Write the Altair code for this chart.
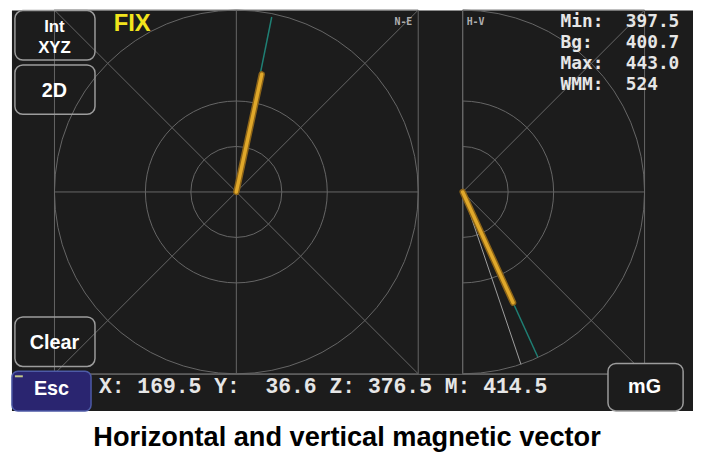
import math
import altair as alt
import pandas as pd

# ---------------- values ----------------
AXIS_NAMES = ["X:", "Y:", "Z:", "M:"]
AXIS_VALUES = [169.5, 36.6, 376.5, 414.5]          # mG
STAT_LABELS = ["Min:", "Bg:", "Max:", "WMM:"]
STAT_VALUES = ["397.5", "400.7", "443.0", "524"]
RING_RADII = [65.5, 131.0, 262.0]                   # mG (outer = WMM / 2)
# N-E panel vectors: [teal trace, orange vector]
NE_EAST = [51.0, 36.6]
NE_NORTH = [252.0, 169.5]
NE_KIND = ["trace", "vector"]
# H-V panel vectors: [gray reference, teal trace, orange vector]
HV_H = [84.0, 108.2, 72.6]
HV_V = [-248.5, -237.8, -159.5]
HV_KIND = ["ref", "trace", "vector"]
PANEL_NAMES = ["N-E", "H-V"]
BUTTONS = ["Int\nXYZ", "2D", "Clear", "Esc", "mG"]
MODE_LABEL = "FIX"
TITLE = "Horizontal and vertical magnetic vector"

# ---------------- layout / style ----------------
W, H = 693, 446
OUTER_PX = 184
R = RING_RADII[-1]
K = OUTER_PX / R
NE_CX, CY, HV_CX = 231, 183.5, 460
HV_OFF = (HV_CX - NE_CX) / K

BG = "#1c1c1c"
GRID = "#666666"
ORANGE = "#e0a82a"
ORANGE_EDGE = "#8c6418"
TEAL = "#1f7f74"
REF = "#a0a0a0"
TXT = "#e6e6e6"
BTN = "#9c9c9c"

xs = alt.Scale(domain=[-NE_CX / K, (W - NE_CX) / K], nice=False, zero=False)
ys = alt.Scale(domain=[-(H - CY) / K, CY / K], nice=False, zero=False)
one = pd.DataFrame({"a": [0]})


def X(f):
    return alt.X(f, type="quantitative", scale=xs, axis=None)


def Y(f):
    return alt.Y(f, type="quantitative", scale=ys, axis=None)


def prect(x0, y0, x1, y1, **style):
    return alt.Chart(one).mark_rect(**style).encode(
        x=alt.value(x0), x2=alt.value(x1), y=alt.value(y0), y2=alt.value(y1))


def ptext(text, x, y, **style):
    return alt.Chart(one).mark_text(text=text, **style).encode(
        x=alt.value(x), y=alt.value(y))


layers = []
# screen background
layers.append(prect(4, 0, W, 405, fill=BG))

# panel boxes
boxes = pd.DataFrame({"x0": [-R, HV_OFF], "x1": [R, HV_OFF + R],
                      "y0": [-R, -R], "y1": [R, R]})
layers.append(alt.Chart(boxes).mark_rect(fillOpacity=0, stroke=GRID, strokeWidth=1).encode(
    x=X("x0"), x2="x1", y=Y("y0"), y2="y1"))

# grid spokes
segs = pd.DataFrame({
    "x0": [0, -R, -R, -R, HV_OFF, HV_OFF, HV_OFF],
    "y0": [-R, 0, -R, R, 0, 0, 0],
    "x1": [0, R, R, R, HV_OFF + R, HV_OFF + R, HV_OFF + R],
    "y1": [R, 0, R, -R, 0, R, -R],
})
layers.append(alt.Chart(segs).mark_rule(color=GRID, strokeWidth=1).encode(
    x=X("x0"), y=Y("y0"), x2="x1", y2="y1"))

# rings
rings = pd.DataFrame({
    "cx": [0.0] * 3 + [HV_OFF] * 3,
    "cy": [0.0] * 6,
    "r": RING_RADII * 2,
    "t0": [0.0] * 6,
    "t1": [2 * math.pi] * 3 + [math.pi] * 3,
})
layers.append(alt.Chart(rings).mark_arc(filled=False, color=GRID, strokeWidth=1).encode(
    x=X("cx"), y=Y("cy"),
    radius=alt.Radius("r:Q", scale=alt.Scale(type="linear", domain=[0, R], range=[0, OUTER_PX])),
    theta=alt.Theta("t0:Q", scale=None), theta2="t1:Q"))

# status separator
layers.append(alt.Chart(one).mark_rule(color=GRID, strokeWidth=1).encode(
    x=alt.value(4), x2=alt.value(644), y=alt.value(368)))

# vectors
ne = pd.DataFrame({"e": NE_EAST, "n": NE_NORTH, "kind": NE_KIND})
ne["x0"] = 0.0
ne["y0"] = 0.0
hv = pd.DataFrame({"h": HV_H, "v": HV_V, "kind": HV_KIND})
hv["x0"] = HV_OFF
hv["y0"] = 0.0
hv["x1"] = hv["h"] + HV_OFF

layers.append(alt.Chart(hv[hv.kind == "ref"]).mark_rule(color=REF, strokeWidth=1).encode(
    x=X("x0"), y=Y("y0"), x2="x1", y2="v"))
layers.append(alt.Chart(hv[hv.kind == "trace"]).mark_rule(color=TEAL, strokeWidth=1.5).encode(
    x=X("x0"), y=Y("y0"), x2="x1", y2="v"))
layers.append(alt.Chart(ne[ne.kind == "trace"]).mark_rule(color=TEAL, strokeWidth=1.5).encode(
    x=X("x0"), y=Y("y0"), x2="e", y2="n"))
for w, c in [(6.5, ORANGE_EDGE), (3.5, ORANGE)]:
    layers.append(alt.Chart(hv[hv.kind == "vector"]).mark_rule(color=c, strokeWidth=w, strokeCap="round").encode(
        x=X("x0"), y=Y("y0"), x2="x1", y2="v"))
    layers.append(alt.Chart(ne[ne.kind == "vector"]).mark_rule(color=c, strokeWidth=w, strokeCap="round").encode(
        x=X("x0"), y=Y("y0"), x2="e", y2="n"))

# panel names
layers.append(ptext(PANEL_NAMES[0], 409, 15, font="DejaVu Sans Mono", fontWeight="bold",
                    fontSize=10, color="#b0b0b0", align="right", baseline="alphabetic"))
layers.append(ptext(PANEL_NAMES[1], 464, 15, font="DejaVu Sans Mono", fontWeight="bold",
                    fontSize=10, color="#b0b0b0", align="left", baseline="alphabetic"))

# buttons
btn_style = dict(fillOpacity=0, stroke=BTN, strokeWidth=1.5, cornerRadius=8)
layers.append(prect(7, 0, 88, 50, **btn_style))
layers.append(prect(7, 55, 88, 105, **btn_style))
layers.append(prect(7, 310, 88, 360, **btn_style))
layers.append(prect(4, 365, 84, 405, fill="#2a2570", stroke="#4d5aa6", strokeWidth=1.5, cornerRadius=6))
layers.append(prect(607, 357, 683, 405, fill=BG, stroke=BTN, strokeWidth=1.5, cornerRadius=8))
layers.append(alt.Chart(one).mark_rule(color="#c2c88a", strokeWidth=2).encode(
    x=alt.value(7), x2=alt.value(15), y=alt.value(370)))

bt = dict(font="Liberation Sans", fontWeight="bold", fontSize=20, color="white",
          align="center", baseline="alphabetic")
bt_small = dict(bt, fontSize=17)
layers.append(ptext(BUTTONS[0], 47, 22, lineBreak="\n", lineHeight=20.5, **bt_small))
layers.append(ptext(BUTTONS[1], 47, 87, **bt))
layers.append(ptext(BUTTONS[2], 47, 342, **bt))
layers.append(ptext(BUTTONS[3], 44, 389, **bt))
layers.append(ptext(BUTTONS[4], 644, 387, **bt))

# mode label
layers.append(ptext(MODE_LABEL, 107, 21, font="Liberation Sans", fontWeight="bold", fontSize=24,
                    color="#f2e41c", align="left", baseline="alphabetic"))

# stats top-right
layers.append(ptext("\n".join(STAT_LABELS), 559, 17, font="DejaVu Sans Mono", fontWeight="bold",
                    fontSize=18, color=TXT, align="left", baseline="alphabetic",
                    lineBreak="\n", lineHeight=21))
layers.append(ptext("\n".join(STAT_VALUES), 625, 17, font="DejaVu Sans Mono", fontWeight="bold",
                    fontSize=18, color=TXT, align="left", baseline="alphabetic",
                    lineBreak="\n", lineHeight=21))

# status line
status = " ".join(f"{n}{v:6.1f}" for n, v in zip(AXIS_NAMES, AXIS_VALUES)).replace(" ", "\u00a0")
layers.append(ptext(status, 92, 387, font="Liberation Mono", fontWeight="bold", fontSize=21.6,
                    color=TXT, align="left", baseline="alphabetic"))

# caption
layers.append(ptext(TITLE, 343, 441, font="Liberation Sans", fontWeight="bold", fontSize=27.5,
                    color="black", align="center", baseline="alphabetic"))

chart = alt.layer(*layers).properties(
    width=W, height=H, padding=0, background="white",
    autosize=alt.AutoSizeParams(type="none"),
).configure_view(stroke=None)

chart.save("out.html", embed_options={"renderer": "svg", "actions": False})
